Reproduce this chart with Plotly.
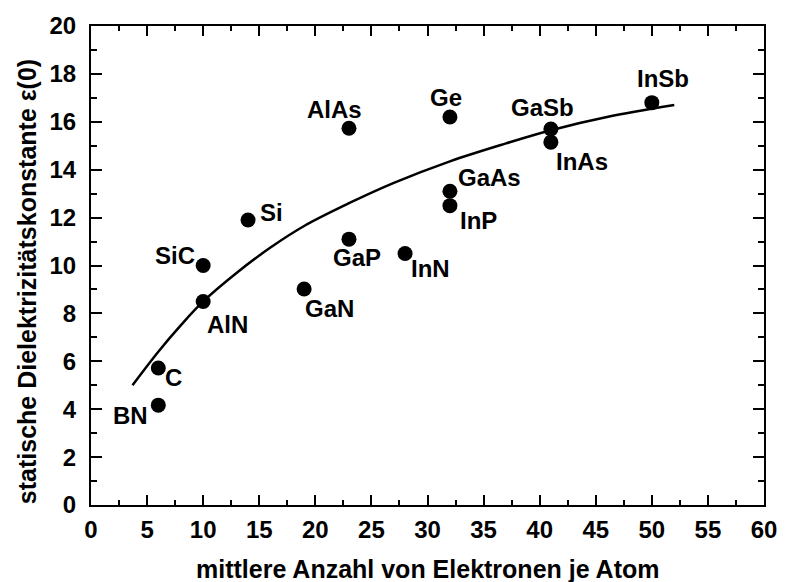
import plotly.graph_objects as go

# ---- data ----
materials = ["BN", "C", "AlN", "SiC", "Si", "GaN", "GaP", "AlAs", "InN",
             "GaAs", "InP", "Ge", "GaSb", "InAs", "InSb"]
electrons = [6, 6, 10, 10, 14, 19, 23, 23, 28, 32, 32, 32, 41, 41, 50]
epsilon0 = [4.17, 5.72, 8.5, 10.0, 11.9, 9.02, 11.1, 15.73, 10.5,
            13.1, 12.5, 16.2, 15.7, 15.15, 16.8]

curve_x = [3.7, 6, 8, 10, 13, 16, 19, 23, 27, 32, 37, 41, 46, 52]
curve_y = [5.0, 6.4, 7.5, 8.5, 9.7, 10.75, 11.65, 12.6, 13.45, 14.35, 15.1,
           15.65, 16.2, 16.7]

x_ticks = list(range(0, 61, 5))
y_ticks = list(range(0, 21, 2))

x_title = "mittlere Anzahl von Elektronen je Atom"
y_title = "statische Dielektrizitätskonstante ε(0)"

# ---- style ----
FONT = "Liberation Sans, Arial, Helvetica, sans-serif"
FS = 24
FS_TITLE = 25
label_style = {  # anchor, xshift, yshift (pixels)
    "BN": ("right", -8, -10), "C": ("left", 5, -9), "AlN": ("left", 2, -23),
    "SiC": ("right", -6, 10), "Si": ("left", 10, 8), "GaN": ("left", -1, -20),
    "GaP": ("center", 8, -18), "AlAs": ("center", -14, 19),
    "InN": ("left", 4, -15), "GaAs": ("left", 6, 14), "InP": ("left", 8, -15),
    "Ge": ("center", -4, 20), "GaSb": ("center", -8, 21),
    "InAs": ("left", 3, -19), "InSb": ("center", 11, 24),
}

fig = go.Figure()
fig.add_trace(go.Scatter(x=curve_x, y=curve_y, mode="lines",
                         line=dict(color="black", width=2.5, shape="spline",
                                   smoothing=1.0),
                         hoverinfo="skip", showlegend=False))
fig.add_trace(go.Scatter(x=electrons, y=epsilon0, mode="markers",
                         marker=dict(color="black", size=15),
                         text=materials, showlegend=False))

for name, xv, yv in zip(materials, electrons, epsilon0):
    anc, dx, dy = label_style[name]
    fig.add_annotation(x=xv, y=yv, text=name, showarrow=False,
                       xanchor=anc, yanchor="middle", xshift=dx, yshift=dy,
                       font=dict(family=FONT, size=FS, color="black", weight="bold"))

fig.add_annotation(x=0.5, y=-0.1343, xref="paper", yref="paper", text=x_title,
                   showarrow=False, xanchor="center", yanchor="middle",
                   font=dict(family=FONT, size=FS_TITLE, color="black", weight="bold"))
fig.add_annotation(x=-0.0953, y=0.467, xref="paper", yref="paper", text=y_title,
                   showarrow=False, textangle=-90, xanchor="center", yanchor="middle",
                   font=dict(family=FONT, size=FS_TITLE, color="black", weight="bold"))

axis_common = dict(showgrid=False, zeroline=False, showline=True, linecolor="black",
                   linewidth=2, mirror="ticks", ticks="inside", tickcolor="black",
                   tickwidth=2, tickfont=dict(family=FONT, size=FS, color="black",
                                              weight="bold"))
fig.update_xaxes(range=[0, 60], tickvals=x_ticks, ticklen=10,
                 minor=dict(dtick=2.5, ticks="inside", ticklen=5, tickwidth=2,
                            tickcolor="black"),
                 ticklabelstandoff=2, **axis_common)
fig.update_yaxes(range=[0, 20], tickvals=y_ticks, ticklen=11,
                 minor=dict(dtick=1, ticks="inside", ticklen=6, tickwidth=2,
                            tickcolor="black"),
                 ticklabelstandoff=8, **axis_common)

fig.update_layout(width=789, height=582, margin=dict(l=91, r=16, t=21, b=77),
                  plot_bgcolor="white", paper_bgcolor="white",
                  font=dict(family=FONT, size=FS, color="black"))

fig.write_html("out.html")
